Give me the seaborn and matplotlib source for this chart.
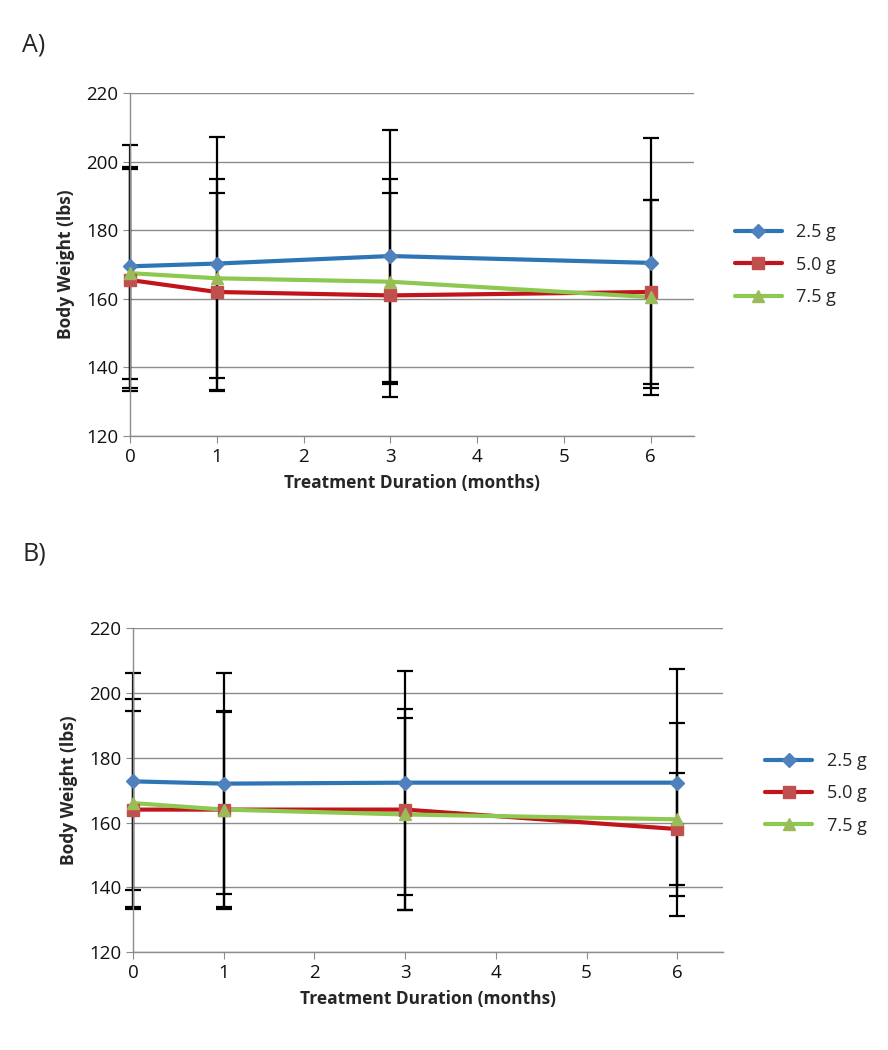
import numpy as np
import pandas as pd
import matplotlib
matplotlib.use('Agg')
import matplotlib.pyplot as plt
import seaborn as sns

# months and dose groups
months = [0, 1, 3, 6]
doses = ['2.5 g', '5.0 g', '7.5 g']

# panel A means and error half-widths
a_25 = [169.5, 170.3, 172.5, 170.5]
a_50 = [165.5, 162.0, 161.0, 162.0]
a_75 = [167.5, 166.0, 165.0, 160.5]
a_25_err = [35.5, 37.0, 36.7, 36.5]
a_50_err = [32.5, 29.0, 29.8, 27.0]
a_75_err = [31.0, 29.0, 30.0, 28.5]

# panel B means and error half-widths
b_25 = [172.7, 172.0, 172.3, 172.3]
b_50 = [164.0, 164.0, 164.0, 158.0]
b_75 = [166.0, 164.0, 162.5, 161.0]
b_25_err = [33.5, 34.0, 34.5, 35.0]
b_50_err = [30.5, 30.5, 31.0, 17.3]
b_75_err = [32.0, 30.0, 29.6, 29.8]

line_colors = ['#2E75B6', '#C0161B', '#8DC851']
marker_colors = ['#4F81BD', '#C0504D', '#9BBB59']
markers = ['D', 's', '^']
msizes = [7, 9, 9]

sns.set_style('white')
plt.rcParams['font.family'] = ['Open Sans', 'DejaVu Sans']

fig = plt.figure(figsize=(8.88, 10.5), dpi=100)
ax_a = fig.add_axes([0.1464, 0.585, 0.635, 0.326])
ax_b = fig.add_axes([0.1498, 0.093, 0.664, 0.309])


def draw_panel(ax, means, errs, legend_xy):
    df = pd.DataFrame({
        'month': months * 3,
        'weight': means[0] + means[1] + means[2],
        'dose': [d for d in doses for _ in months],
    })
    # error bars behind the lines
    for m, e in zip(means, errs):
        eb = ax.errorbar(months, m, yerr=e, fmt='none', ecolor='black',
                         elinewidth=1.6, capsize=6, capthick=1.6, zorder=2)
        for art in eb.lines[1] + eb.lines[2]:
            art.set_clip_on(False)
    sns.lineplot(data=df, x='month', y='weight', hue='dose',
                 palette=line_colors, linewidth=3, ax=ax, legend=False,
                 zorder=3)
    for ln in ax.lines:
        ln.set_clip_on(False)
    for i, d in enumerate(doses):
        sub = df[df['dose'] == d]
        ax.plot(sub['month'], sub['weight'], linestyle='none',
                marker=markers[i], markersize=msizes[i],
                color=marker_colors[i], zorder=4, clip_on=False)
    ax.set_xlim(0, 6.5)
    ax.set_ylim(120, 220)
    ax.set_xticks(range(0, 7))
    ax.set_yticks(range(120, 221, 20))
    ax.grid(axis='y', color='#8c8c8c', linewidth=1)
    ax.set_axisbelow(True)
    for s in ['top', 'right']:
        ax.spines[s].set_visible(False)
    for s in ['left', 'bottom']:
        ax.spines[s].set_color('#8c8c8c')
        ax.spines[s].set_linewidth(1)
    ax.tick_params(axis='both', labelsize=13.5, length=5, color='#8c8c8c',
                   direction='out', left=True, bottom=True, labelcolor='#111111')
    ax.set_xlabel('Treatment Duration (months)', fontsize=12.5,
                  fontweight='bold', labelpad=6)
    ax.set_ylabel('Body Weight (lbs)', fontsize=12.5, fontweight='bold',
                  labelpad=8)
    handles = [plt.Line2D([], [], color=line_colors[i], linewidth=3,
                          marker=markers[i], markersize=msizes[i],
                          markerfacecolor=marker_colors[i],
                          markeredgecolor=marker_colors[i])
               for i in range(3)]
    ax.legend(handles, doses, loc='center left', bbox_to_anchor=legend_xy,
              frameon=False, fontsize=13, handlelength=2.6,
              labelspacing=0.8, borderaxespad=0)


draw_panel(ax_a, [a_25, a_50, a_75], [a_25_err, a_50_err, a_75_err],
           (1.06, 0.5))
draw_panel(ax_b, [b_25, b_50, b_75], [b_25_err, b_50_err, b_75_err],
           (1.06, 0.49))

fig.text(0.025, 0.957, 'A)', fontsize=18, va='center')
fig.text(0.025, 0.472, 'B)', fontsize=18, va='center')

fig.savefig('out.png', dpi=100, facecolor='white')
